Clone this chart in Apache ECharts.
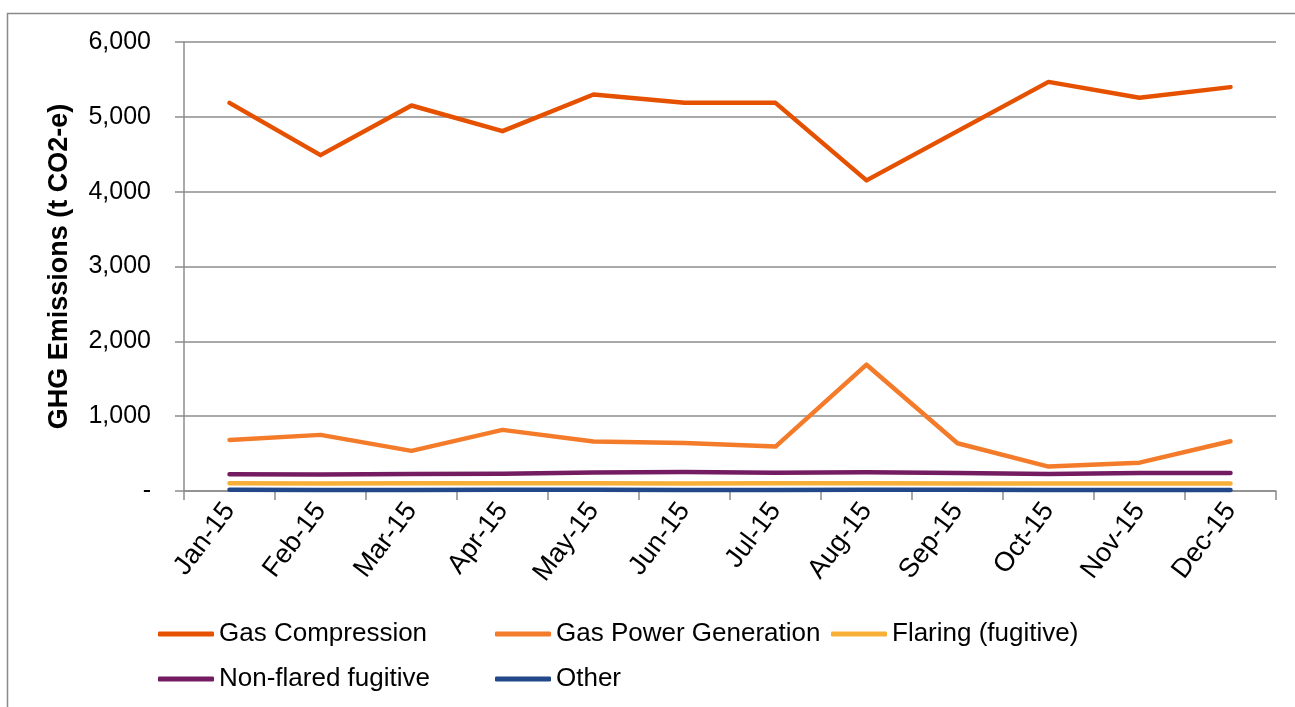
<!DOCTYPE html>
<html>
<head>
<meta charset="utf-8">
<script src="https://cdn.jsdelivr.net/npm/echarts@6/dist/echarts.min.js"></script>
<style>
html,body{margin:0;padding:0;background:#fff;}
#chart{width:1295px;height:707px;}
</style>
</head>
<body>
<div id="chart"></div>
<script>
const categories = ['Jan-15','Feb-15','Mar-15','Apr-15','May-15','Jun-15','Jul-15','Aug-15','Sep-15','Oct-15','Nov-15','Dec-15'];
const gasCompression = [5187, 4488, 5151, 4808, 5298, 5187, 5187, 4151, 4809, 5467, 5254, 5397];
const gasPowerGeneration = [683, 750, 536, 817, 661, 640, 594, 1688, 638, 326, 379, 665];
const flaringFugitive = [103, 100, 103, 103, 105, 101, 102, 103, 100, 100, 100, 100];
const nonFlaredFugitive = [223, 220, 228, 230, 248, 255, 245, 250, 240, 228, 240, 240];
const other = [16, 15, 15, 16, 17, 14, 15, 16, 16, 14, 15, 15];
const seriesNames = ['Gas Compression','Gas Power Generation','Flaring (fugitive)','Non-flared fugitive','Other'];
const yTicks = [0, 1000, 2000, 3000, 4000, 5000, 6000];

const colors = ['#E65100','#F47B2A','#F8AF37','#741C62','#22488A'];
const font = 'Liberation Sans, Arial, sans-serif';
const gray = '#8c8c8c';

const chart = echarts.init(document.getElementById('chart'));
const dataSets = [gasCompression, gasPowerGeneration, flaringFugitive, nonFlaredFugitive, other];
const legendPos = [[158, 619], [495, 619], [831, 619], [158, 664], [495, 664]];

const option = {
  animation: false,
  backgroundColor: '#fff',
  graphic: [{
    type: 'rect', silent: true,
    shape: {x: 7.5, y: 13.5, width: 1300, height: 720},
    style: {fill: 'none', stroke: '#8a8a8a', lineWidth: 1.5}
  }],
  grid: {left: 184, right: 19, top: 42, bottom: 216},
  legend: seriesNames.map((n, i) => ({
    data: [n], left: legendPos[i][0], top: legendPos[i][1], padding: 0,
    icon: 'roundRect', itemWidth: 56, itemHeight: 5,
    textStyle: {fontFamily: font, fontSize: 26, color: '#000', lineHeight: 30},
    selectedMode: false
  })),
  xAxis: {
    type: 'category', data: categories, boundaryGap: true,
    axisLine: {lineStyle: {color: gray, width: 1.5}},
    axisTick: {show: true, length: 9, lineStyle: {color: gray, width: 1.5}},
    axisLabel: {rotate: 53, fontFamily: font, fontSize: 27, color: '#000', margin: 15, interval: 0}
  },
  yAxis: {
    type: 'value', min: yTicks[0], max: yTicks[yTicks.length - 1], interval: 1000,
    name: 'GHG Emissions (t CO2-e)', nameLocation: 'middle', nameRotate: 90, nameGap: 111,
    nameTextStyle: {fontFamily: font, fontSize: 27, fontWeight: 'bold', color: '#000'},
    axisLine: {show: true, lineStyle: {color: gray, width: 1.5}},
    axisTick: {show: true, length: 9, lineStyle: {color: gray, width: 1.5}},
    splitLine: {lineStyle: {color: gray, width: 1.5}},
    axisLabel: {
      fontFamily: font, fontSize: 25, color: '#000', margin: 33,
      formatter: v => v === 0 ? '-' : v.toLocaleString('en-US')
    }
  },
  series: seriesNames.map((n, i) => ({
    name: n, type: 'line', data: dataSets[i], symbol: 'none',
    color: colors[i],
    lineStyle: {width: 4.5, color: colors[i], cap: 'round', join: 'round'},
    z: 10 - i
  }))
};
chart.setOption(option);
</script>
</body>
</html>
